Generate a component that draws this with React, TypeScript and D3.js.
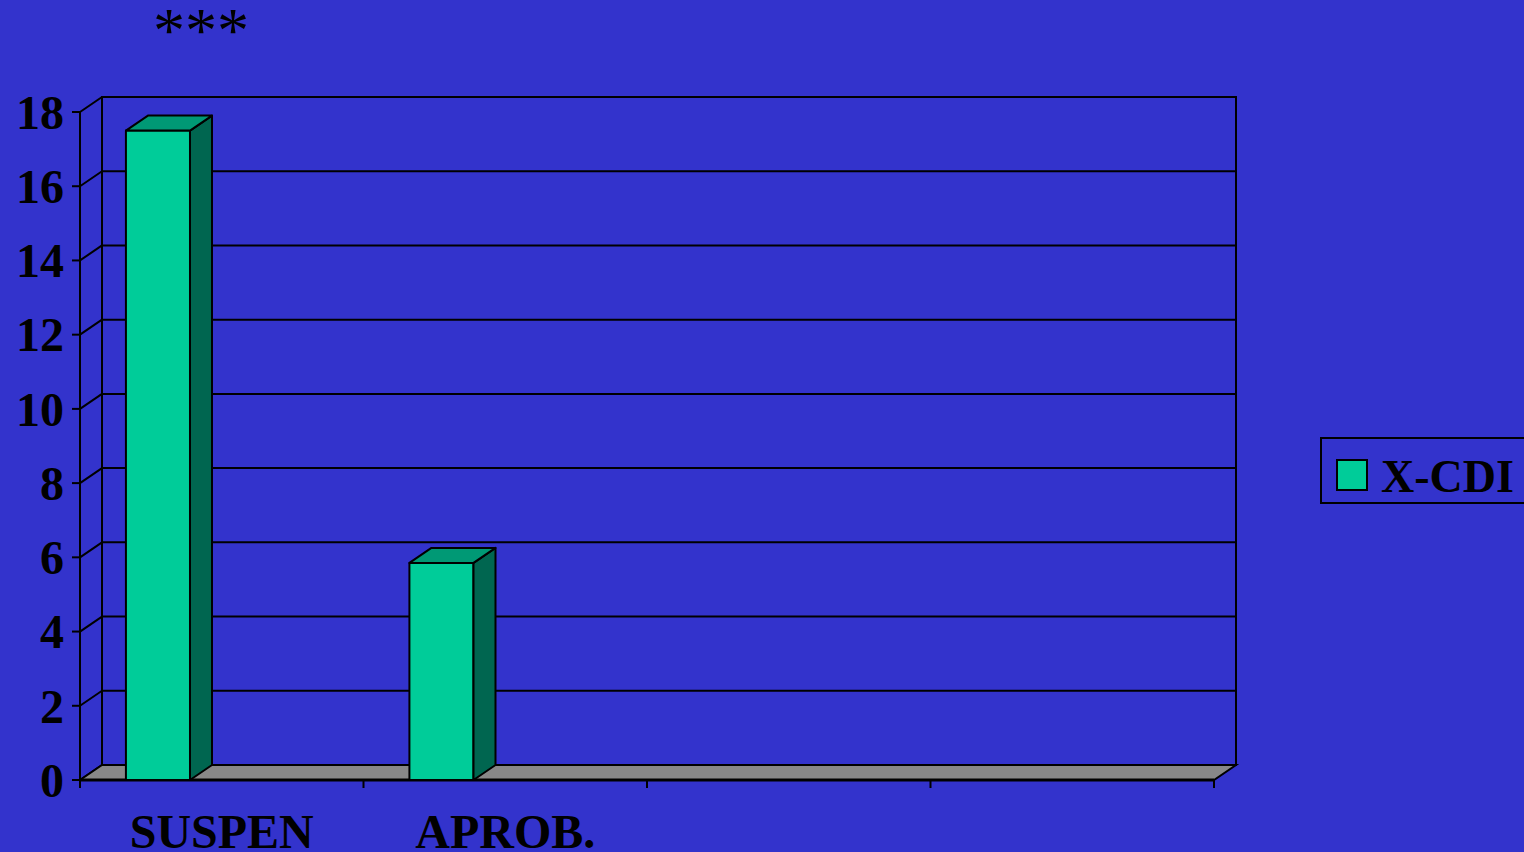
import React from 'react';
import { scaleLinear, scaleBand, range } from 'd3';

const categories = ['SUSPEN', 'APROB.', 'C3', 'C4'];
const categoryLabels = ['SUSPEN', 'APROB.', '', ''];
const xcdiValues = [17.5, 5.85, 0, 0];
const yTicks = [0, 2, 4, 6, 8, 10, 12, 14, 16, 18];
const seriesName = 'X-CDI';
const significance = '***';

const W = 1524;
const H = 852;
const DX = 22; // depth offset of the 3d walls
const DY = -15;

const BG = '#3333CC';
const FRONT = '#00CC99';
const SIDE = '#006650';
const TOP = '#009975';
const FLOOR = '#888888';
const FONT = '"Liberation Serif", "Times New Roman", serif';

const App = () => {
  const x = scaleBand<string>().domain(categories).range([80, 1214]);
  const y = scaleLinear().domain([0, 18]).range([780, 112]);
  const bw = x.bandwidth();
  const barW = bw * 0.226;
  const barOff = bw * 0.162;
  const y0 = y(0);
  const x0 = 80;
  const x1 = 1214;

  return (
    <svg
      width={W}
      height={H}
      style={{ position: 'absolute', left: 0, top: 0, background: BG }}
    >
      <rect width={W} height={H} fill={BG} />

      {/* back wall */}
      <rect
        x={x0 + DX}
        y={y(18) + DY}
        width={x1 - x0}
        height={y0 - y(18)}
        fill={BG}
        stroke="#000"
        strokeWidth={2}
      />
      {/* gridlines on the back wall + side wall diagonals */}
      {yTicks.map(t => (
        <g key={t}>
          <line
            x1={x0 + DX}
            x2={x1 + DX}
            y1={y(t) + DY}
            y2={y(t) + DY}
            stroke="#000"
            strokeWidth={2}
          />
          <line
            x1={x0}
            x2={x0 + DX}
            y1={y(t)}
            y2={y(t) + DY}
            stroke="#000"
            strokeWidth={2}
          />
          <line x1={x0 - 8} x2={x0} y1={y(t)} y2={y(t)} stroke="#000" strokeWidth={2} />
          <text
            x={64}
            y={y(t)}
            dy="0.35em"
            textAnchor="end"
            fontFamily={FONT}
            fontWeight="bold"
            fontSize={48}
            fill="#000"
          >
            {t}
          </text>
        </g>
      ))}

      {/* floor */}
      <polygon
        points={`${x0},${y0} ${x0 + DX},${y0 + DY} ${x1 + DX},${y0 + DY} ${x1},${y0}`}
        fill={FLOOR}
        stroke="#000"
        strokeWidth={2}
      />

      {/* left axis */}
      <line x1={x0} x2={x0} y1={y(18)} y2={y0 + 8} stroke="#000" strokeWidth={2} />
      {/* bottom axis */}
      <line x1={x0} x2={x1} y1={y0} y2={y0} stroke="#000" strokeWidth={3} />
      {range(categories.length + 1).map(i => {
        const px = i < categories.length ? x(categories[i])! : x1;
        return (
          <line key={i} x1={px} x2={px} y1={y0} y2={y0 + 8} stroke="#000" strokeWidth={2} />
        );
      })}

      {/* bars */}
      {categories.map((c, i) => {
        const v = xcdiValues[i];
        if (!v) return null;
        const bx = x(c)! + barOff;
        const by = y(v);
        return (
          <g key={c} stroke="#000" strokeWidth={2} strokeLinejoin="round">
            <rect x={bx} y={by} width={barW} height={y0 - by} fill={FRONT} />
            <polygon
              points={`${bx + barW},${by} ${bx + barW + DX},${by + DY} ${bx + barW + DX},${y0 + DY} ${bx + barW},${y0}`}
              fill={SIDE}
            />
            <polygon
              points={`${bx},${by} ${bx + DX},${by + DY} ${bx + barW + DX},${by + DY} ${bx + barW},${by}`}
              fill={TOP}
            />
          </g>
        );
      })}

      {/* category labels */}
      {categories.map((c, i) => (
        <text
          key={c}
          x={x(c)! + bw / 2}
          y={848}
          textAnchor="middle"
          fontFamily={FONT}
          fontWeight="bold"
          fontSize={48}
          fill="#000"
        >
          {categoryLabels[i]}
        </text>
      ))}

      {/* significance marker */}
      <text
        x={x(categories[0])! + barOff + barW / 2 + 43}
        y={52}
        textAnchor="middle"
        fontFamily={FONT}
        fontSize={64}
        fill="#000"
      >
        {significance}
      </text>

      {/* legend */}
      <rect x={1321} y={438} width={220} height={65} fill={BG} stroke="#000" strokeWidth={2} />
      <rect x={1337} y={460} width={30} height={30} fill={FRONT} stroke="#000" strokeWidth={2} />
      <text
        x={1381}
        y={492}
        fontFamily={FONT}
        fontWeight="bold"
        fontSize={46}
        fill="#000"
      >
        {seriesName}
      </text>
    </svg>
  );
};

export default App;
